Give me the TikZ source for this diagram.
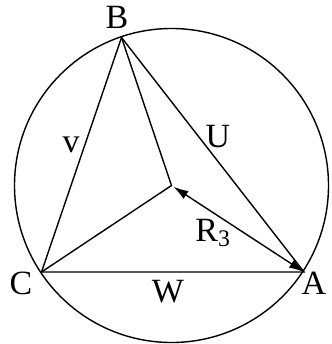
\documentclass[tikz,border=0pt]{standalone}
\usepackage{fontspec}
\setmainfont{Liberation Serif}
\usetikzlibrary{arrows.meta}

\begin{document}
\begin{tikzpicture}[
    x=0.03cm, y=-0.03cm,
    edge/.style={line width=1.2pt, line cap=round},
    darr/.style={{Latex[length=0.45cm, width=0.28cm]}-{Latex[length=0.45cm, width=0.28cm]}, line width=1.2pt, shorten <=2pt},
    lbl/.style={inner sep=0pt, font=\fontsize{29}{34}\selectfont},
]

\useasboundingbox (0,0) rectangle (331,344);

% points
\coordinate (O) at (171.5,185.5);
\coordinate (B) at (121.5,37.5);
\coordinate (C) at (41.5,272);
\coordinate (A) at (304,272);

\draw [edge] (O) circle [radius=157];

\draw [edge] (A) -- (B) -- (C) -- cycle;
\draw [edge] (B) -- (O) -- (C);
\draw [darr] (O) -- (A);

\node [lbl] (labB) at (117,17) {B};
\node [lbl] (labC) at (21,283) {C};
\node [lbl] (labA) at (314,283) {A};
\node [lbl] (labv) at (71,145) {v};
\node [lbl] (labU) at (218,137) {U};
\node [lbl] (labR) at (213,233) {R\textsubscript{3}};
\node [lbl] (labW) at (168,292) {W};

\end{tikzpicture}
\end{document}
